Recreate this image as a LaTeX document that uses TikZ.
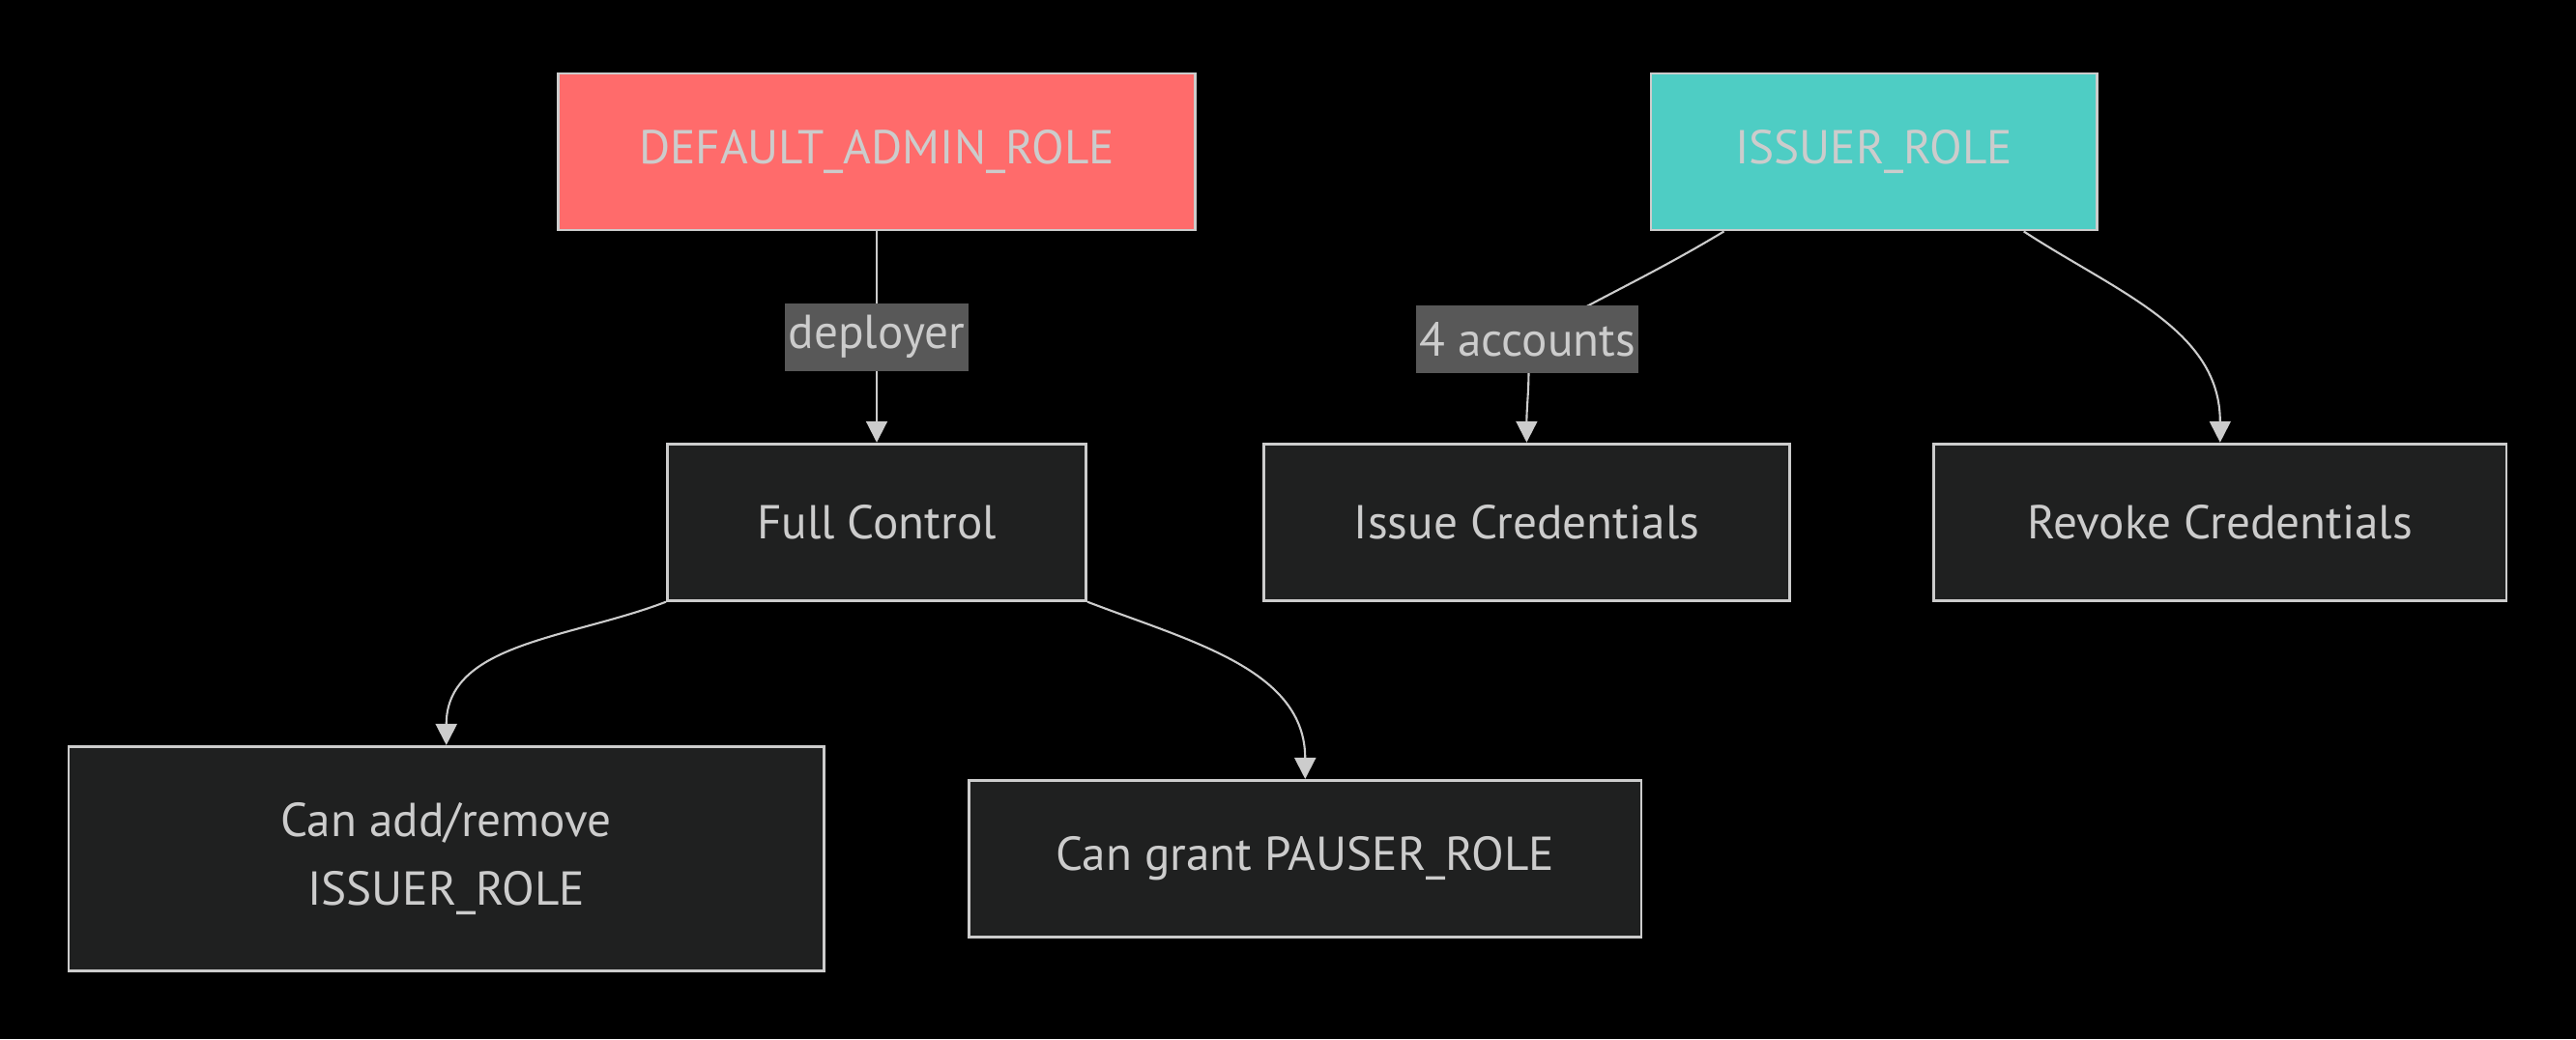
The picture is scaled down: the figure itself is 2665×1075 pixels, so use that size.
\documentclass[tikz,border=0pt]{standalone}
\usepackage{fontspec}
\setmainfont{PT Sans}
\usetikzlibrary{positioning,arrows.meta}

\definecolor{bgblack}{HTML}{000000}
\definecolor{nodefill}{HTML}{1F2020}
\definecolor{edgegray}{HTML}{CCCCCC}
\definecolor{txtgray}{HTML}{CCCCCC}
\definecolor{lblfill}{HTML}{585858}
\definecolor{adminred}{HTML}{FF6B6B}
\definecolor{issuerteal}{HTML}{4ECDC4}

\begin{document}
\begin{tikzpicture}[x=0.01cm,y=0.01cm,on grid,
    box/.style={draw=edgegray,line width=0.8pt,fill=nodefill,text=txtgray,
        minimum height=1.62cm,align=center,inner sep=0pt,
        font=\fontsize{14pt}{20.4pt}\selectfont},
    lbl/.style={fill=lblfill,text=txtgray,inner xsep=1pt,inner ysep=0pt,
        minimum height=0.7cm,font=\fontsize{14pt}{17pt}\selectfont},
    arr/.style={draw=edgegray,line width=0.6pt,-{Triangle[length=0.22cm,width=0.22cm]}}]
    \fill[bgblack] (0,0) rectangle (2665,-1075);
    \node[box, fill=adminred, minimum width=6.58cm] (admin) at (907,-157) {DEFAULT\_ADMIN\_ROLE};
    \node[box, minimum width=4.33cm] (full) [below=3.83cm of admin] {Full Control};
    \node[box, fill=issuerteal, minimum width=4.61cm] (issuer) [right=10.31cm of admin] {ISSUER\_ROLE};
    \node[box, minimum width=5.44cm] (issue) [below left=3.83cm and 3.59cm of issuer] {Issue Credentials};
    \node[box, minimum width=5.92cm] (revoke) [below right=3.83cm and 3.58cm of issuer] {Revoke Credentials};
    \node[box, minimum width=7.81cm, minimum height=2.32cm] (add) [below left=3.48cm and 4.45cm of full] {Can add/remove\\ISSUER\_ROLE};
    \node[box, minimum width=6.95cm] (grant) [below right=3.48cm and 4.43cm of full] {Can grant PAUSER\_ROLE};
    \coordinate (acctpt) at (1580,-351);
    \path
        (admin) edge[arr] node[lbl] {deployer} (full)
        (issuer.332) edge[arr, out=327, in=90] (revoke.north)
        (full.south west) edge[arr, out=201, in=90] (add.north)
        (full.south east) edge[arr, out=339, in=90] (grant.north);
    \draw[arr] (issuer.208) to[out=211, in=30] (acctpt) node[lbl] (acct) {4 accounts}
        to[out=275, in=90] (issue.north);
\end{tikzpicture}
\end{document}
